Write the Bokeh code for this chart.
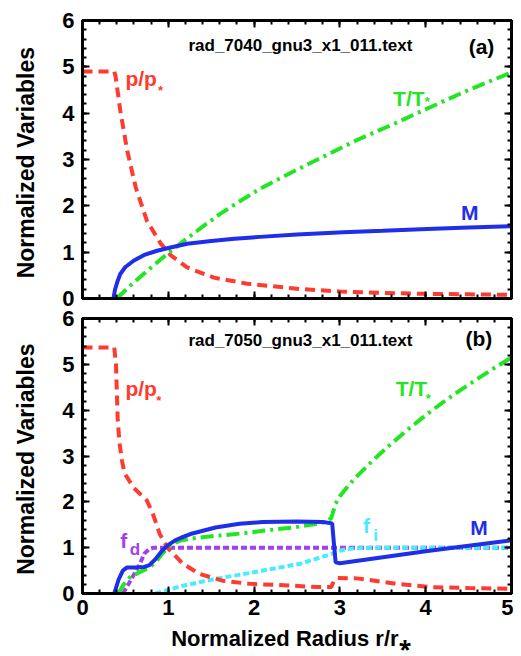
from bokeh.plotting import figure
from bokeh.layouts import column
from bokeh.models import LinearAxis, Range1d, SingleIntervalTicker
from bokeh.core.properties import value
from bokeh.embed import file_html
from bokeh.resources import INLINE

FONT = "Liberation Sans"
RED = "#ff3b2f"
GREEN = "#22e622"
BLUE = "#1f2ee8"
PURPLE = "#a040ee"
CYAN = "#48ecff"

# ---------------- panel (a) data ----------------
xa_p = [0, 0.37, 0.385, 0.44, 0.52, 0.62, 0.75, 0.91, 1.03, 1.22, 1.53, 1.92, 2.5, 3.0, 3.5, 4.0, 4.5, 5.0]
ya_p = [4.9, 4.9, 4.8, 4.06, 3.2, 2.4, 1.68, 1.19, 0.93, 0.67, 0.45, 0.32, 0.21, 0.15, 0.12, 0.1, 0.09, 0.08]

xa_M = [0.36, 0.38, 0.41, 0.44, 0.5, 0.6, 0.72, 0.87, 1.0, 1.22, 1.5, 1.77, 2.07, 2.5, 3.04, 3.5, 4.02, 4.5, 5.0]
ya_M = [0, 0.2, 0.38, 0.53, 0.68, 0.82, 0.94, 1.03, 1.09, 1.18, 1.24, 1.29, 1.33, 1.38, 1.43, 1.46, 1.5, 1.53, 1.56]

xa_T = [0.4, 0.6, 0.8, 1.0, 1.2, 1.4, 1.6, 1.8, 2.07, 2.5, 2.85, 3.2, 3.63, 4.02, 4.5, 5.0]
ya_T = [0, 0.35, 0.67, 0.98, 1.27, 1.55, 1.82, 2.06, 2.37, 2.78, 3.1, 3.42, 3.77, 4.1, 4.5, 4.88]

# ---------------- panel (b) data ----------------
xb_p = [0, 0.37, 0.39, 0.41, 0.43, 0.46, 0.49, 0.6, 0.75, 0.82, 0.9, 0.99, 1.17, 1.36, 1.63, 1.95, 2.35, 2.74,
        2.9, 2.93, 2.97, 3.2, 3.63, 4.06, 4.5, 5.0]
yb_p = [5.37, 5.37, 5.0, 3.82, 3.3, 2.9, 2.62, 2.3, 2.03, 1.74, 1.3, 1.0, 0.65, 0.43, 0.28, 0.21, 0.18, 0.14,
        0.14, 0.28, 0.34, 0.33, 0.22, 0.14, 0.12, 0.1]

xb_M = [0.37, 0.42, 0.47, 0.52, 0.62, 0.72, 0.78, 0.85, 0.93, 1.0, 1.08, 1.18, 1.28, 1.55, 1.83, 2.1, 2.5, 2.8,
        2.91, 2.93, 2.95, 3.0, 3.5, 4.0, 4.5, 5.0]
yb_M = [0, 0.3, 0.5, 0.57, 0.57, 0.58, 0.62, 0.75, 0.94, 1.06, 1.16, 1.24, 1.31, 1.44, 1.52, 1.56, 1.57, 1.56,
        1.53, 1.1, 0.68, 0.66, 0.79, 0.92, 1.04, 1.16]

xb_T = [0.42, 0.48, 0.55, 0.65, 0.78, 0.86, 0.93, 1.0, 1.05, 1.15, 1.28, 1.45, 1.63, 1.96, 2.1, 2.46, 2.7, 2.85,
        2.9, 2.95, 3.0, 3.1, 3.2, 3.4, 3.6, 3.8, 4.0, 4.2, 4.4, 4.6, 4.8, 5.0]
yb_T = [0, 0.2, 0.35, 0.45, 0.57, 0.7, 0.87, 1.0, 1.09, 1.16, 1.2, 1.24, 1.27, 1.33, 1.37, 1.44, 1.51, 1.57,
        1.65, 1.96, 2.12, 2.36, 2.56, 2.93, 3.27, 3.59, 3.89, 4.17, 4.43, 4.68, 4.92, 5.15]

xb_fd = [0.47, 0.52, 0.58, 0.67, 0.72, 0.78, 0.83, 0.9, 5.0]
yb_fd = [0, 0.15, 0.35, 0.65, 0.87, 0.97, 1.0, 1.0, 1.0]

xb_fi = [0.85, 1.0, 1.17, 1.55, 1.96, 2.1, 2.54, 2.93, 3.05, 3.2, 3.5, 5.0]
yb_fi = [0, 0.08, 0.17, 0.32, 0.45, 0.5, 0.65, 0.88, 0.96, 0.99, 1.0, 1.0]

# ---------------- labels ----------------
title_a = "rad_7040_gnu3_x1_011.text"
title_b = "rad_7050_gnu3_x1_011.text"
ylabel = "Normalized  Variables"
xlabel = "Normalized  Radius  r/r\u204e"
tick_values = [0, 1, 2, 3, 4, 5, 6]


def style_axes(p, show_x_labels):
    p.add_layout(LinearAxis(), "above")
    p.add_layout(LinearAxis(), "right")
    for ax in p.axis:
        ax.ticker = SingleIntervalTicker(interval=1, num_minor_ticks=5)
        ax.major_tick_in = 7
        ax.major_tick_out = 0
        ax.minor_tick_in = 4
        ax.minor_tick_out = 0
        ax.major_tick_line_width = 2
        ax.minor_tick_line_width = 2
        ax.axis_line_width = 3
        ax.major_label_text_font = FONT
        ax.major_label_text_font_style = "bold"
        ax.major_label_text_font_size = "22px"
        ax.major_label_text_color = "black"
        ax.axis_label_text_font = FONT
        ax.axis_label_text_font_style = "bold"
        ax.axis_label_text_font_size = "22px"
        ax.axis_label_text_color = "black"
    hidden = [p.above[0], p.right[0]]
    if not show_x_labels:
        hidden.append(p.below[0])
    for ax in hidden:
        ax.major_label_overrides = {t: "" for t in tick_values}
        ax.major_label_text_font_size = "1px"
        ax.major_label_standoff = 0
    p.yaxis[0].axis_label = ylabel
    p.yaxis[0].axis_label_text_font_size = "23px"
    p.yaxis[0].major_label_standoff = 8
    p.yaxis[0].axis_label_standoff = 20
    if show_x_labels:
        p.below[0].axis_label = xlabel
        p.below[0].major_label_standoff = 6
        p.below[0].axis_label_standoff = 8


def make_fig(frame_h, top, bottom, show_x):
    p = figure(frame_width=429, frame_height=frame_h,
               x_range=Range1d(0, 5), y_range=Range1d(0, 6),
               output_backend="svg", toolbar_location=None,
               min_border_left=82, min_border_right=2,
               min_border_top=top, min_border_bottom=bottom)
    p.grid.visible = False
    p.outline_line_color = "black"
    p.outline_line_width = 3
    p.background_fill_color = "white"
    p.border_fill_color = None
    style_axes(p, show_x)
    return p


def txt(p, x, y, s, color, size="21px", align="left", baseline="alphabetic"):
    p.text(x=[x], y=[y], text=[s], text_color=color, text_font=value(FONT),
           text_font_style="bold", text_font_size=size, text_align=align,
           text_baseline=baseline)


# ---------------- panel (a) ----------------
pa = make_fig(278, 20, 15, False)
pa.line(xa_p, ya_p, line_color=RED, line_width=4, line_dash="10 6")
pa.line(xa_T, ya_T, line_color=GREEN, line_width=4, line_dash="13 5 3 5")
pa.line(xa_M, ya_M, line_color=BLUE, line_width=4)
txt(pa, 2.54, 5.46, title_a, "black", size="17px", align="center", baseline="middle")
txt(pa, 4.65, 5.44, "(a)", "black", size="21px", align="center", baseline="middle")
txt(pa, 0.5, 4.75, "p/p", RED)
txt(pa, 0.88, 4.5, "*", RED, size="13px")
txt(pa, 3.62, 4.32, "T/T", GREEN)
txt(pa, 3.99, 4.26, "*", GREEN, size="13px")
txt(pa, 4.41, 1.86, "M", BLUE)

# ---------------- panel (b) ----------------
pb = make_fig(275, 15, 55, True)
pb.margin = (-10, 0, 0, 0)
pb.line(xb_fd, yb_fd, line_color=PURPLE, line_width=4, line_dash="6 3")
pb.line(xb_fi, yb_fi, line_color=CYAN, line_width=4, line_dash="6 3")
pb.line(xb_p, yb_p, line_color=RED, line_width=4, line_dash="10 6")
pb.line(xb_T, yb_T, line_color=GREEN, line_width=4, line_dash="13 5 3 5")
pb.line(xb_M, yb_M, line_color=BLUE, line_width=4)
txt(pb, 2.54, 5.52, title_b, "black", size="17px", align="center", baseline="middle")
txt(pb, 4.62, 5.56, "(b)", "black", size="21px", align="center", baseline="middle")
txt(pb, 0.5, 4.47, "p/p", RED)
txt(pb, 0.86, 4.22, "*", RED, size="13px")
txt(pb, 3.65, 4.47, "T/T", GREEN)
txt(pb, 4.0, 4.25, "*", GREEN, size="13px")
txt(pb, 0.44, 1.16, "f", PURPLE)
txt(pb, 0.55, 0.96, "d", PURPLE, size="17px")
txt(pb, 3.27, 1.48, "f", CYAN)
txt(pb, 3.39, 1.27, "i", CYAN, size="17px")
txt(pb, 4.52, 1.44, "M", BLUE)

layout = column(pa, pb, spacing=0)
open("out.html", "w").write(file_html(layout, INLINE))
